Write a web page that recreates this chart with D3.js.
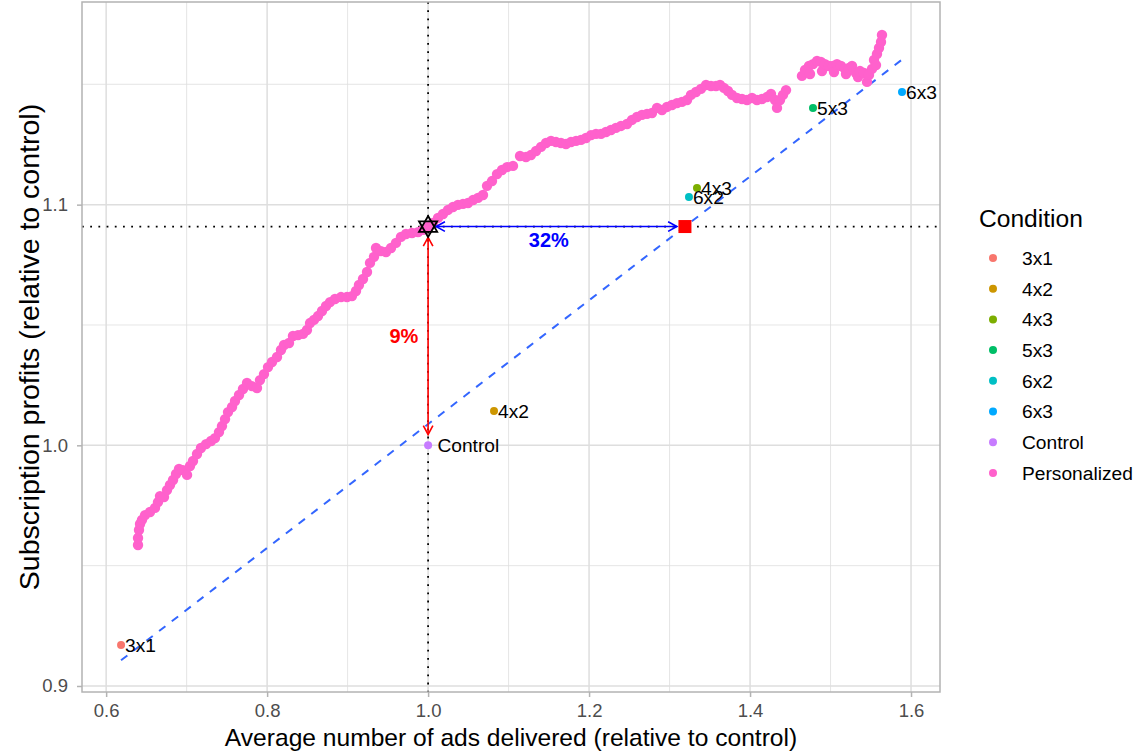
<!DOCTYPE html>
<html>
<head>
<meta charset="utf-8">
<script src="https://cdn.jsdelivr.net/npm/d3@7"></script>
<style>
body { margin: 0; background: #fff; }
text { font-family: 'Liberation Sans', Arial, sans-serif; }
</style>
</head>
<body>
<div class="content"></div>
<script>
var width = 1141
var height = 756

// condition points
var condNames = ['3x1', '4x2', '4x3', '5x3', '6x2', '6x3', 'Control']
var condLabels = ['3x1', '4x2', '4x3', '5x3', '6x2', '6x3', ' Control']
var condX = [0.6185, 1.0819, 1.3341, 1.4782, 1.3241, 1.5888, 1.0]
var condY = [0.9170, 1.0143, 1.1069, 1.1402, 1.1032, 1.1468, 1.0]
var condColors = ['#F8766D', '#CD9600', '#7CAE00', '#00BE67', '#00BFC4', '#00A9FF', '#C77CFF']
var persColor = '#FF61CC'
var legendNames = ['3x1', '4x2', '4x3', '5x3', '6x2', '6x3', 'Control', 'Personalized']

// personalized frontier (x, y)
var persPoints = [
    [0.6396, 0.9586], [0.6396, 0.9615], [0.6408, 0.9648], [0.6421, 0.9673], [0.6445, 0.9690],
    [0.6483, 0.9710], [0.6545, 0.9723], [0.6607, 0.9740], [0.6644, 0.9764], [0.6669, 0.9789],
    [0.6719, 0.9785], [0.6756, 0.9814], [0.6793, 0.9835], [0.6831, 0.9856], [0.6868, 0.9881],
    [0.6905, 0.9902], [0.6955, 0.9897], [0.7005, 0.9877], [0.7042, 0.9914], [0.7079, 0.9935],
    [0.7129, 0.9964], [0.7178, 0.9989], [0.7241, 1.0005], [0.7303, 1.0018], [0.7352, 1.0030],
    [0.7402, 1.0055], [0.7439, 1.0080], [0.7477, 1.0109], [0.7514, 1.0138], [0.7564, 1.0159],
    [0.7601, 1.0184], [0.7651, 1.0209], [0.7700, 1.0234], [0.7750, 1.0259], [0.7812, 1.0246],
    [0.7874, 1.0238], [0.7911, 1.0271], [0.7961, 1.0296], [0.8011, 1.0325], [0.8061, 1.0346],
    [0.8123, 1.0367], [0.8172, 1.0396], [0.8210, 1.0417], [0.8272, 1.0425], [0.8321, 1.0454],
    [0.8384, 1.0458], [0.8446, 1.0463], [0.8495, 1.0479], [0.8533, 1.0508], [0.8582, 1.0521],
    [0.8632, 1.0537], [0.8682, 1.0558], [0.8732, 1.0579], [0.8781, 1.0595], [0.8843, 1.0608],
    [0.8918, 1.0616], [0.8992, 1.0616], [0.9054, 1.0620], [0.9104, 1.0641], [0.9141, 1.0666],
    [0.9191, 1.0691], [0.9241, 1.0720], [0.9278, 1.0758], [0.9328, 1.0783], [0.9353, 1.0820],
    [0.9415, 1.0807], [0.9477, 1.0803], [0.9539, 1.0820], [0.9601, 1.0841], [0.9663, 1.0866],
    [0.9725, 1.0878], [0.9800, 1.0882], [0.9875, 1.0886], [0.9937, 1.0895], [1.0000, 1.0909],
    [1.0061, 1.0924], [1.0123, 1.0945], [1.0185, 1.0961], [1.0247, 1.0978], [1.0309, 1.0990],
    [1.0371, 1.0999], [1.0434, 1.1003], [1.0496, 1.1007], [1.0558, 1.1019], [1.0620, 1.1028],
    [1.0682, 1.1040], [1.0732, 1.1078], [1.0794, 1.1098], [1.0856, 1.1127], [1.0918, 1.1144],
    [1.0980, 1.1156], [1.1055, 1.1161], [1.1142, 1.1202], [1.1216, 1.1198], [1.1278, 1.1206],
    [1.1341, 1.1223], [1.1403, 1.1240], [1.1465, 1.1256], [1.1527, 1.1265], [1.1589, 1.1260],
    [1.1651, 1.1256], [1.1713, 1.1252], [1.1775, 1.1260], [1.1838, 1.1265], [1.1900, 1.1269],
    [1.1962, 1.1277], [1.2024, 1.1289], [1.2086, 1.1294], [1.2148, 1.1294], [1.2210, 1.1302],
    [1.2272, 1.1310], [1.2334, 1.1319], [1.2397, 1.1327], [1.2471, 1.1335], [1.2533, 1.1352],
    [1.2595, 1.1364], [1.2657, 1.1373], [1.2720, 1.1377], [1.2782, 1.1381], [1.2844, 1.1402],
    [1.2906, 1.1393], [1.2968, 1.1406], [1.3030, 1.1414], [1.3092, 1.1422], [1.3154, 1.1427],
    [1.3217, 1.1435], [1.3266, 1.1456], [1.3328, 1.1468], [1.3390, 1.1481], [1.3453, 1.1497],
    [1.3515, 1.1493], [1.3577, 1.1493], [1.3627, 1.1497], [1.3676, 1.1485], [1.3726, 1.1472],
    [1.3776, 1.1456], [1.3838, 1.1443], [1.3900, 1.1439], [1.3962, 1.1435], [1.4024, 1.1443],
    [1.4086, 1.1435], [1.4148, 1.1439], [1.4210, 1.1447], [1.4260, 1.1460], [1.4310, 1.1435],
    [1.4335, 1.1402], [1.4372, 1.1435], [1.4409, 1.1456], [1.4447, 1.1476], [1.4645, 1.1535],
    [1.4683, 1.1560], [1.4732, 1.1576], [1.4745, 1.1543], [1.4782, 1.1584], [1.4832, 1.1597],
    [1.4881, 1.1593], [1.4894, 1.1555], [1.4931, 1.1584], [1.4981, 1.1576], [1.5030, 1.1576],
    [1.5043, 1.1551], [1.5080, 1.1584], [1.5130, 1.1576], [1.5180, 1.1564], [1.5192, 1.1543],
    [1.5229, 1.1568], [1.5267, 1.1576], [1.5316, 1.1547], [1.5341, 1.1530], [1.5366, 1.1555],
    [1.5416, 1.1547], [1.5453, 1.1510], [1.5478, 1.1539], [1.5515, 1.1564], [1.5540, 1.1601],
    [1.5565, 1.1580], [1.5577, 1.1626], [1.5602, 1.1651], [1.5627, 1.1676], [1.5639, 1.1705]
]

var xTicks = [0.6, 0.8, 1.0, 1.2, 1.4, 1.6]
var xMinor = [0.7, 0.9, 1.1, 1.3, 1.5]
var yTicks = [0.9, 1.0, 1.1]
var yMinor = [0.95, 1.05, 1.15]

// reference: control and personalized profit at the same ad load
var refX = 1.0
var persAtRef = 1.0909
var label32 = [1.15, 1.0853]
var label9 = [0.97, 1.0455]

var panel = {left: 82, right: 940, top: 2, bottom: 692}

var x = d3.scaleLinear()
    .domain([0.57, 1.636])
    .range([panel.left, panel.right])

var y = d3.scaleLinear()
    .domain([0.8975, 1.1842])
    .range([panel.bottom, panel.top])

// linear fit through the fixed conditions
var mx = d3.mean(condX)
var my = d3.mean(condY)
var slope = d3.sum(condX, function(v, i) { return (v - mx) * (condY[i] - my) }) /
    d3.sum(condX, function(v) { return (v - mx) * (v - mx) })
var intercept = my - slope * mx
var fitExtent = d3.extent(condX)
var matchX = (persAtRef - intercept) / slope

var svg = d3.select('.content').append('svg')
    .attr('width', width)
    .attr('height', height)

// grid
var grid = svg.append('g').attr('class', 'grid')
grid.selectAll('.xminor').data(xMinor).enter().append('line')
    .attr('x1', function(d) { return x(d) }).attr('x2', function(d) { return x(d) })
    .attr('y1', panel.top).attr('y2', panel.bottom)
    .style('stroke', '#dedede').style('stroke-width', 0.8)
grid.selectAll('.yminor').data(yMinor).enter().append('line')
    .attr('y1', function(d) { return y(d) }).attr('y2', function(d) { return y(d) })
    .attr('x1', panel.left).attr('x2', panel.right)
    .style('stroke', '#dedede').style('stroke-width', 0.8)
grid.selectAll('.xmajor').data(xTicks).enter().append('line')
    .attr('x1', function(d) { return x(d) }).attr('x2', function(d) { return x(d) })
    .attr('y1', panel.top).attr('y2', panel.bottom)
    .style('stroke', '#dedede').style('stroke-width', 1.5)
grid.selectAll('.ymajor').data(yTicks).enter().append('line')
    .attr('y1', function(d) { return y(d) }).attr('y2', function(d) { return y(d) })
    .attr('x1', panel.left).attr('x2', panel.right)
    .style('stroke', '#dedede').style('stroke-width', 1.5)

// axes
var xAxis = svg.append('g')
    .attr('transform', 'translate(0,' + panel.bottom + ')')
    .call(d3.axisBottom(x).tickValues(xTicks).tickFormat(d3.format('.1f')).tickSize(5).tickPadding(7))
var yAxis = svg.append('g')
    .attr('transform', 'translate(' + panel.left + ',0)')
    .call(d3.axisLeft(y).tickValues(yTicks).tickFormat(d3.format('.1f')).tickSize(5).tickPadding(9))

svg.selectAll('.domain').remove()
svg.selectAll('.tick line').style('stroke', '#b3b3b3').style('stroke-width', 1.5)
svg.selectAll('.tick text')
    .style('fill', '#4d4d4d')
    .style('font-size', '18.5px')
    .style('font-family', "'Liberation Sans', Arial, sans-serif")

// reference lines
svg.append('line')
    .attr('x1', x(refX)).attr('x2', x(refX))
    .attr('y1', panel.top).attr('y2', panel.bottom)
    .style('stroke', '#000').style('stroke-width', 1.8)
    .style('stroke-dasharray', '1.8,6.4')
svg.append('line')
    .attr('x1', panel.left).attr('x2', panel.right)
    .attr('y1', y(persAtRef)).attr('y2', y(persAtRef))
    .style('stroke', '#000').style('stroke-width', 1.8)
    .style('stroke-dasharray', '1.8,6.4')

// fitted line
svg.append('line')
    .attr('x1', x(fitExtent[0])).attr('y1', y(intercept + slope * fitExtent[0]))
    .attr('x2', x(fitExtent[1])).attr('y2', y(intercept + slope * fitExtent[1]))
    .style('stroke', '#3366FF').style('stroke-width', 2)
    .style('stroke-dasharray', '8,8')

// personalized points
svg.append('g')
    .selectAll('circle')
    .data(persPoints)
    .enter().append('circle')
    .attr('cx', function(d) { return x(d[0]) })
    .attr('cy', function(d) { return y(d[1]) })
    .attr('r', 5.2)
    .style('fill', persColor)

// condition points + labels
var cond = svg.append('g')
cond.selectAll('circle')
    .data(condNames)
    .enter().append('circle')
    .attr('cx', function(d, i) { return x(condX[i]) })
    .attr('cy', function(d, i) { return y(condY[i]) })
    .attr('r', 4)
    .style('fill', function(d, i) { return condColors[i] })
cond.selectAll('text')
    .data(condLabels)
    .enter().append('text')
    .attr('x', function(d, i) { return x(condX[i]) + 4 })
    .attr('y', function(d, i) { return y(condY[i]) })
    .attr('dy', '0.36em')
    .style('white-space', 'pre')
    .style('font-size', '19.2px')
    .style('fill', '#000')
    .text(function(d) { return d })

// arrows with open heads at both ends
function arrow(x1, y1, x2, y2, color) {
    var a = Math.atan2(y2 - y1, x2 - x1)
    var len = 10, spread = 0.5
    function head(px, py, ang) {
        return 'M' + (px - len * Math.cos(ang - spread)) + ',' + (py - len * Math.sin(ang - spread)) +
            'L' + px + ',' + py +
            'L' + (px - len * Math.cos(ang + spread)) + ',' + (py - len * Math.sin(ang + spread))
    }
    var g = svg.append('g')
        .style('stroke', color).style('stroke-width', 1.6).style('fill', 'none')
    g.append('line').attr('x1', x1).attr('y1', y1).attr('x2', x2).attr('y2', y2)
    g.append('path').attr('d', head(x2, y2, a))
    g.append('path').attr('d', head(x1, y1, a + Math.PI))
}

arrow(x(refX), y(condY[6] + 0.0045), x(refX), y(persAtRef - 0.0045), '#FF0000')
arrow(x(refX + 0.01), y(persAtRef), x(matchX - 0.01), y(persAtRef), '#0000FF')

// star (two triangles) at the personalized point
var R = 10.5
var cx = x(refX), cy = y(persAtRef)
function tri(offset) {
    return d3.range(3).map(function(k) {
        var ang = offset + k * 2 * Math.PI / 3
        return [cx + R * Math.cos(ang), cy + R * Math.sin(ang)]
    })
}
svg.selectAll('.star')
    .data([tri(-Math.PI / 2), tri(Math.PI / 2)])
    .enter().append('path')
    .attr('d', function(d) { return 'M' + d.join('L') + 'Z' })
    .style('fill', 'none').style('stroke', '#000').style('stroke-width', 1.8)

// matching square on the fitted line
svg.append('rect')
    .attr('x', x(matchX) - 6.5).attr('y', y(persAtRef) - 6.5)
    .attr('width', 13).attr('height', 13)
    .style('fill', '#FF0000')

// gain labels
svg.append('text')
    .attr('x', x(label32[0])).attr('y', y(label32[1]))
    .attr('dy', '0.36em').attr('text-anchor', 'middle')
    .style('font-size', '20px').style('font-weight', 'bold').style('fill', '#0000FF')
    .text(Math.round((matchX - refX) / refX * 100) + '%')
svg.append('text')
    .attr('x', x(label9[0])).attr('y', y(label9[1]))
    .attr('dy', '0.36em').attr('text-anchor', 'middle')
    .style('font-size', '20px').style('font-weight', 'bold').style('fill', '#FF0000')
    .text(Math.round((persAtRef - condY[6]) / condY[6] * 100) + '%')

// panel border
svg.append('rect')
    .attr('x', panel.left).attr('y', panel.top)
    .attr('width', panel.right - panel.left).attr('height', panel.bottom - panel.top)
    .style('fill', 'none').style('stroke', '#b3b3b3').style('stroke-width', 1.5)

// axis titles
svg.append('text')
    .attr('x', (panel.left + panel.right) / 2).attr('y', 746)
    .attr('text-anchor', 'middle')
    .style('font-size', '24.6px')
    .text('Average number of ads delivered (relative to control)')
svg.append('text')
    .attr('transform', 'translate(39,' + (panel.top + panel.bottom) / 2 + ') rotate(-90)')
    .attr('text-anchor', 'middle')
    .style('font-size', '28.5px')
    .text('Subscription profits (relative to control)')

// legend
var legend = svg.append('g').attr('transform', 'translate(979,0)')
legend.append('text')
    .attr('x', 0).attr('y', 227)
    .style('font-size', '24.6px')
    .text('Condition')
var items = legend.selectAll('.item')
    .data(legendNames)
    .enter().append('g')
    .attr('transform', function(d, i) { return 'translate(0,' + (258 + i * 30.7) + ')' })
items.append('circle')
    .attr('cx', 14).attr('cy', 0).attr('r', 4)
    .style('fill', function(d, i) { return i < condColors.length ? condColors[i] : persColor })
items.append('text')
    .attr('x', 43).attr('dy', '0.36em')
    .style('font-size', '19.2px')
    .text(function(d) { return d })
</script>
</body>
</html>
